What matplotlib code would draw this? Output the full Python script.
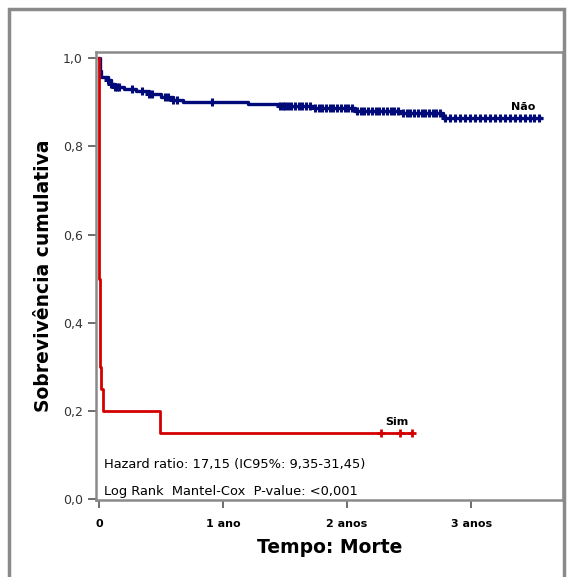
import numpy as np
import matplotlib
matplotlib.use('Agg')
from matplotlib import pyplot as plt
from matplotlib.patches import Rectangle

# Curva "Não" (tempo em anos, sobrevivência)
nao_t = [0, 0.005, 0.02, 0.07, 0.10, 0.13, 0.20, 0.30, 0.40, 0.50, 0.60, 0.68,
         1.20, 1.46, 1.73, 2.06, 2.43, 2.77, 3.56]
nao_s = [1.0, 0.97, 0.958, 0.95, 0.942, 0.935, 0.93, 0.925, 0.918, 0.912, 0.905, 0.900,
         0.895, 0.891, 0.886, 0.880, 0.875, 0.864, 0.864]
nao_cens = [0.07, 0.10, 0.13, 0.145, 0.16, 0.27, 0.35, 0.40, 0.43, 0.53, 0.56, 0.60,
            0.63, 0.91, 1.46, 1.48, 1.50, 1.52, 1.55, 1.58, 1.61, 1.64, 1.67, 1.70,
            1.74, 1.77, 1.80, 1.83, 1.86, 1.89, 1.92, 1.95, 1.98, 2.01, 2.04, 2.08,
            2.11, 2.14, 2.17, 2.20, 2.23, 2.26, 2.29, 2.32, 2.35, 2.38, 2.41, 2.45,
            2.48, 2.51, 2.54, 2.57, 2.60, 2.63, 2.66, 2.69, 2.72, 2.75, 2.79, 2.83,
            2.87, 2.91, 2.95, 2.99, 3.03, 3.07, 3.11, 3.15, 3.19, 3.23, 3.27, 3.31,
            3.35, 3.39, 3.43, 3.47, 3.51, 3.55]

# Curva "Sim"
sim_t = [0, 0.002, 0.004, 0.006, 0.008, 0.010, 0.012, 0.015, 0.03, 0.49, 2.52]
sim_s = [1.0, 0.6, 0.5, 0.45, 0.4, 0.35, 0.3, 0.25, 0.2, 0.15, 0.15]
sim_cens = [2.27, 2.43, 2.52]

xticks = [0, 1, 2, 3]
xticklabels = ['0', '1 ano', '2 anos', '3 anos']
yticks = [0.0, 0.2, 0.4, 0.6, 0.8, 1.0]
yticklabels = ['0,0', '0,2', '0,4', '0,6', '0,8', '1,0']

navy = '#000a78'
red = '#d40000'
frame = '#8a8a8a'


def surv_at(times, surv, t):
    i = np.searchsorted(times, t, side='right') - 1
    return np.array(surv)[i]


fig = plt.figure(figsize=(5.68, 5.77), dpi=100)
fig.patches.append(Rectangle((9 / 568, -0.05), (564 - 9) / 568, 1.05 - 9 / 577,
                             transform=fig.transFigure, fill=False,
                             edgecolor=frame, linewidth=2.5))
ax = fig.add_axes([96 / 568, 1 - 500 / 577, (563 - 96) / 568, (500 - 52) / 577])

ax.step(nao_t, nao_s, where='post', color=navy, linewidth=2.4)
ax.plot(nao_cens, surv_at(nao_t, nao_s, nao_cens), linestyle='none', marker='+',
        color=navy, markersize=6, markeredgewidth=2.2)
ax.step(sim_t, sim_s, where='post', color=red, linewidth=2)
ax.plot(sim_cens, surv_at(sim_t, sim_s, sim_cens), linestyle='none', marker='+',
        color=red, markersize=6, markeredgewidth=2)

ax.text(3.32, 0.877, 'Não', fontsize=8, fontweight='bold', ha='left', va='bottom')
ax.text(2.31, 0.163, 'Sim', fontsize=8, fontweight='bold', ha='left', va='bottom')

ax.text(0.04, 0.078, 'Hazard ratio: 17,15 (IC95%: 9,35-31,45)', fontsize=9.4, va='center')
ax.text(0.04, 0.017, 'Log Rank  Mantel-Cox  P-value: <0,001', fontsize=9.4, va='center')

ax.set_xlim(-0.024, 3.74)
ax.set_ylim(-0.002, 1.014)
ax.set_xticks(xticks)
ax.set_xticklabels(xticklabels, fontsize=8, fontweight='bold')
ax.set_yticks(yticks)
ax.set_yticklabels(yticklabels, fontsize=9, color='#333333')
ax.tick_params(axis='both', color='#555555', length=6, width=1.2)
ax.tick_params(axis='x', pad=8)
for s in ax.spines.values():
    s.set_color(frame)
    s.set_linewidth(1.8)

ax.set_xlabel('Tempo: Morte', fontsize=13.5, fontweight='bold', labelpad=6)
ax.set_ylabel('Sobrevivência cumulativa', fontsize=13.5, fontweight='bold', labelpad=7)

fig.savefig('out.png', dpi=100)
